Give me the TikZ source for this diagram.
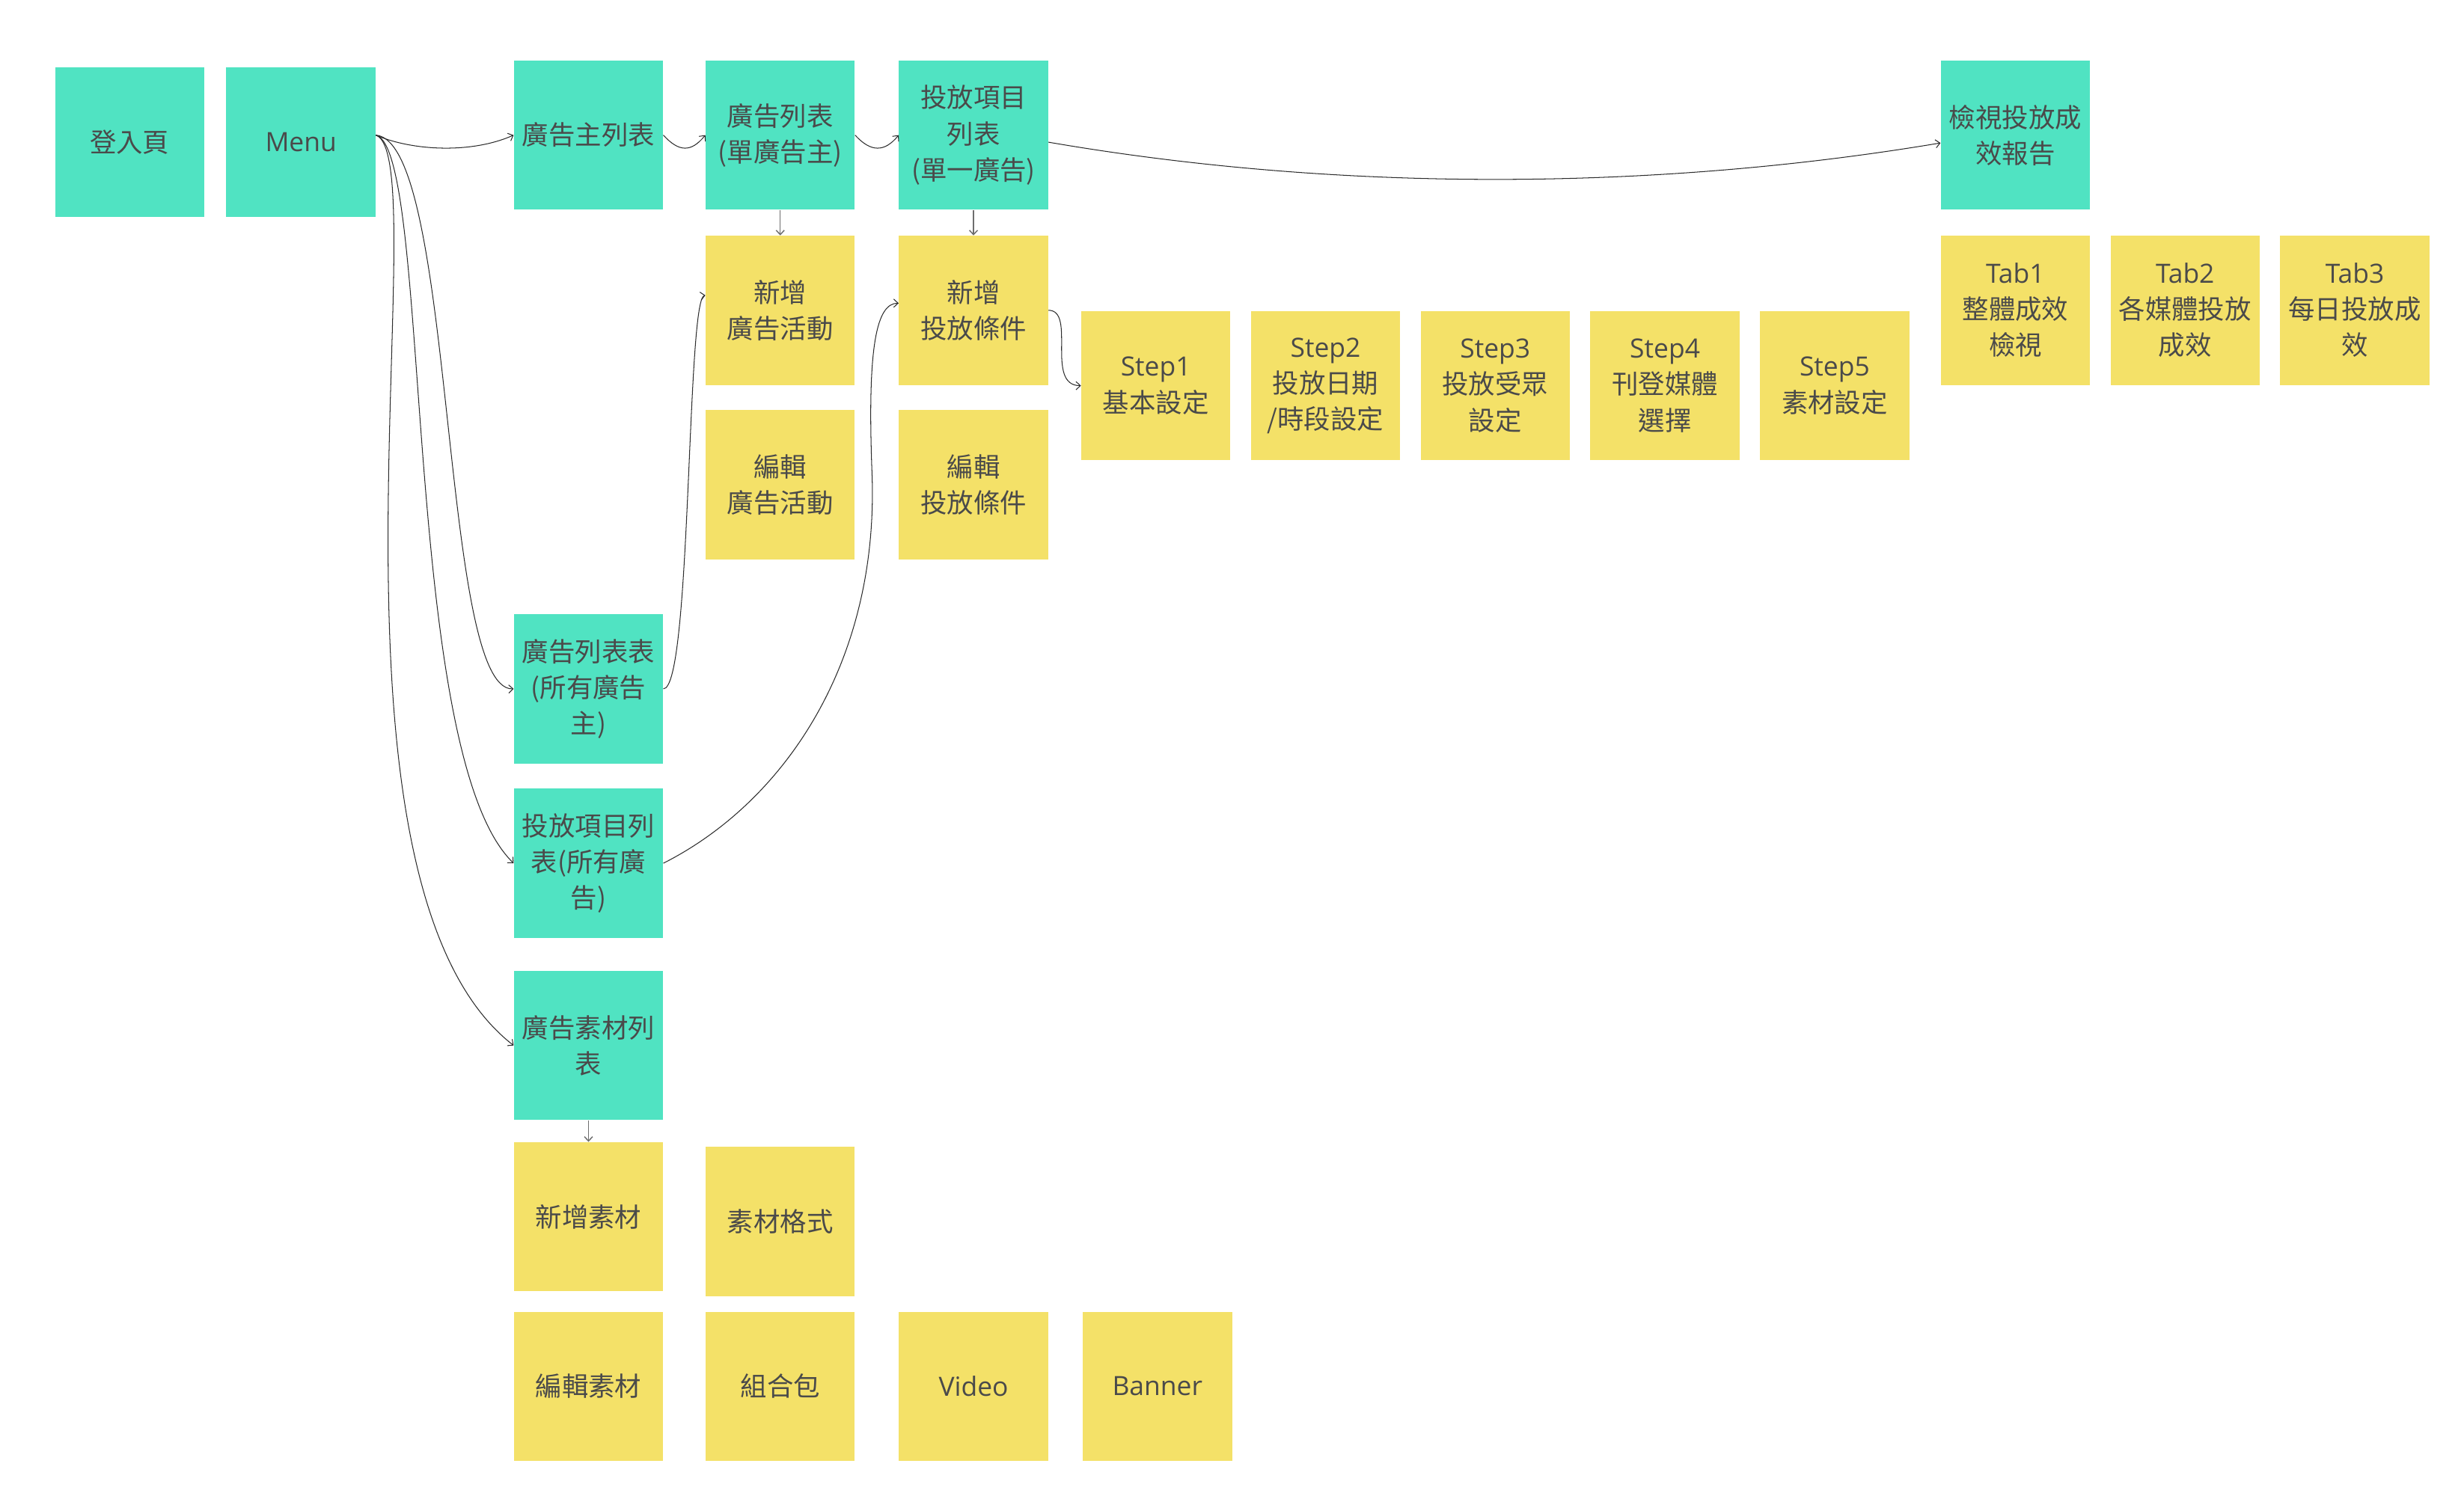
\documentclass[tikz,border=0pt]{standalone}
\usepackage{fontspec}
\setmainfont{Noto Sans CJK TC}
\newfontfamily\latinfont{Open Sans}
\usetikzlibrary{arrows.meta,calc}

\definecolor{screenteal}{HTML}{50E3C2}
\definecolor{noteyellow}{HTML}{F4E168}
\definecolor{inkgray}{HTML}{4A4A4A}
\definecolor{linkblack}{HTML}{2A2A2A}
\definecolor{dropgray}{HTML}{6E6E6E}

\tikzset{
  card/.style={minimum width=4.75cm, minimum height=4.75cm, inner sep=0pt,
    align=center, text=inkgray, font=\fontsize{24}{32.6}\selectfont},
  screen/.style={card, fill=screenteal},
  sticky/.style={card, fill=noteyellow},
  link/.style={draw=linkblack, line width=0.7pt,
    -{Straight Barb[length=1.4mm,width=2.6mm]}},
  drop/.style={draw=dropgray, line width=1pt,
    -{Straight Barb[length=1.4mm,width=2.6mm]}},
}

\begin{document}
\begin{tikzpicture}[x=0.05cm, y=-0.05cm]
\useasboundingbox (0,0) rectangle (1568,958);

% main screens
\node[screen] (login) at (82.5,90.5) {登入頁};
\node[screen] (menu) at (191.5,90.5) {\latinfont Menu};
\node[screen] (advertisers) at (374.5,86) {廣告主列表};
\node[screen] (adlist) at (496.5,86) {廣告列表\\(單廣告主)};
\node[screen] (itemlist) at (619.5,86) {投放項目\\列表\\(單一廣告)};
\node[screen] (report) at (1282.5,86) {檢視投放成\\效報告};

% campaign / condition actions
\node[sticky] (newad) at (496.5,197.5) {新增\\廣告活動};
\node[sticky] (editad) at (496.5,308.5) {編輯\\廣告活動};
\node[sticky] (newcond) at (619.5,197.5) {新增\\投放條件};
\node[sticky] (editcond) at (619.5,308.5) {編輯\\投放條件};

% wizard steps
\node[sticky] (step1) at (735.5,245.5) {{\latinfont Step1}\\基本設定};
\node[sticky] (step2) at (843.5,245.5) {{\latinfont Step2}\\投放日期\\/時段設定};
\node[sticky] (step3) at (951.5,245.5) {{\latinfont Step3}\\投放受眾\\設定};
\node[sticky] (step4) at (1059.5,245.5) {{\latinfont Step4}\\刊登媒體\\選擇};
\node[sticky] (step5) at (1167.5,245.5) {{\latinfont Step5}\\素材設定};

% report tabs
\node[sticky] (tab1) at (1282.5,197.5) {{\latinfont Tab1}\\整體成效\\檢視};
\node[sticky] (tab2) at (1390.5,197.5) {{\latinfont Tab2}\\各媒體投放\\成效};
\node[sticky] (tab3) at (1498.5,197.5) {{\latinfont Tab3}\\每日投放成\\效};

% global lists
\node[screen] (alladlist) at (374.5,438.5) {廣告列表表\\(所有廣告\\主)};
\node[screen] (allitems) at (374.5,549.5) {投放項目列\\表(所有廣\\告)};
\node[screen] (materials) at (374.5,665.5) {廣告素材列\\表};

% materials
\node[sticky] (newmat) at (374.5,774.5) {新增素材};
\node[sticky] (matformat) at (496.5,777.5) {素材格式};
\node[sticky] (editmat) at (374.5,882.5) {編輯素材};
\node[sticky] (bundle) at (496.5,882.5) {組合包};
\node[sticky] (video) at (619.5,882.5) {\latinfont Video};
\node[sticky] (banner) at (736.5,882.5) {\latinfont Banner};

% connector anchors
\coordinate (menuout) at ($(menu.east)+(0,-4.5)$);
\coordinate (itemout) at ($(itemlist.east)+(0,4.5)$);
\coordinate (reportin) at ($(report.west)+(0,5)$);
\coordinate (newadin) at ($(newad.west)+(0,-9.5)$);
\coordinate (newcondin) at ($(newcond.west)+(0,-4.5)$);
\coordinate (bend) at ($(newcond.west)+(-17,102.5)$);

% top row flow
\draw[link] (menuout) .. controls +(23,10) and +(-27,12) .. (advertisers.west);
\draw[link] (advertisers.east) .. controls +(10,11) and +(-9,11) .. (adlist.west);
\draw[link] (adlist.east) .. controls +(10,11) and +(-9,11) .. (itemlist.west);
\draw[link] (itemout) .. controls +(183,31.5) and +(-185,31) .. (reportin);

% vertical drops
\draw[drop] (adlist.south) -- (newad.north);
\draw[drop] (itemlist.south) -- (newcond.north);
\draw[drop] (materials.south) -- (newmat.north);

% condition to wizard
\draw[link] (newcond.east) .. controls +(18,0) and +(-23,0) .. (step1.west);

% menu fan-out
\draw[link] (menuout) .. controls +(51,4) and +(-47,1.5) .. (alladlist.west);
\draw[link] (menuout) .. controls +(36,9) and +(-72,-69.5) .. (allitems.west);
\draw[link] (menuout) .. controls +(40,14) and +(-136,-105.5) .. (materials.west);

% global lists into actions
\draw[link] (alladlist.east) .. controls +(18,0) and +(-12,2) .. (newadin);
\draw[link] (allitems.east) .. controls +(78,-39.5) and +(5,120) .. (bend)
  .. controls +(-3,-80) and +(-14,0) .. (newcondin);
\end{tikzpicture}
\end{document}
